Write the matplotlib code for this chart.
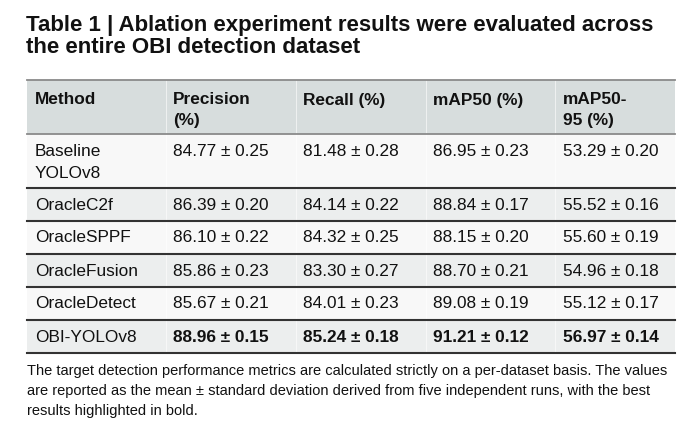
import matplotlib.pyplot as plt
from matplotlib.patches import Rectangle

plt.rcParams['font.family'] = ['Liberation Sans', 'DejaVu Sans']

# Table content
title_lines = ['Table 1 | Ablation experiment results were evaluated across',
               'the entire OBI detection dataset']
headers = [['Method'], ['Precision', '(%)'], ['Recall (%)'], ['mAP50 (%)'], ['mAP50-', '95 (%)']]
methods = [['Baseline', 'YOLOv8'], ['OracleC2f'], ['OracleSPPF'], ['OracleFusion'],
           ['OracleDetect'], ['OBI-YOLOv8']]
precision = ['84.77', '86.39', '86.10', '85.86', '85.67', '88.96']
precision_sd = ['0.25', '0.20', '0.22', '0.23', '0.21', '0.15']
recall = ['81.48', '84.14', '84.32', '83.30', '84.01', '85.24']
recall_sd = ['0.28', '0.22', '0.25', '0.27', '0.23', '0.18']
map50 = ['86.95', '88.84', '88.15', '88.70', '89.08', '91.21']
map50_sd = ['0.23', '0.17', '0.20', '0.21', '0.19', '0.12']
map5095 = ['53.29', '55.52', '55.60', '54.96', '55.12', '56.97']
map5095_sd = ['0.20', '0.16', '0.19', '0.18', '0.17', '0.14']
bold_row = 5
caption = ['The target detection performance metrics are calculated strictly on a per-dataset basis. The values',
           'are reported as the mean \u00b1 standard deviation derived from five independent runs, with the best',
           'results highlighted in bold.']

W, H = 691, 426
fig = plt.figure(figsize=(W / 100, H / 100), dpi=100)
ax = fig.add_axes([0, 0, 1, 1])
ax.set_xlim(0, W)
ax.set_ylim(H, 0)
ax.axis('off')

left, right = 27, 675
col_x = [35, 173, 303, 433, 563]
sep_x = [166, 296, 426, 555]
header_top, header_bot = 80, 134
row_edges = [134, 188, 221, 254, 287, 320, 353]

# title
for i, line in enumerate(title_lines):
    ax.text(left - 1, 25 + i * 22.5, line, fontsize=16, fontweight='bold',
            va='center', ha='left', color='#111111')

# header
ax.add_patch(Rectangle((left, header_top), right - left, header_bot - header_top,
                       color='#d7dddd', lw=0))
for j, h in enumerate(headers):
    for k, part in enumerate(h):
        ax.text(col_x[j], 100 + k * 21, part, fontsize=12.4, fontweight='bold',
                va='center', ha='left', color='#111111')

# rows
cols = [(precision, precision_sd), (recall, recall_sd), (map50, map50_sd), (map5095, map5095_sd)]
for i in range(len(methods)):
    y0, y1 = row_edges[i], row_edges[i + 1]
    bg = '#f8f8f8' if i % 2 == 0 else '#eceeee'
    ax.add_patch(Rectangle((left, y0), right - left, y1 - y0, color=bg, lw=0))
    if len(methods[i]) > 1:
        ys = [y0 + 18 + k * 21.5 for k in range(len(methods[i]))]
    else:
        ys = [(y0 + y1) / 2 + 0.5]
    for k, part in enumerate(methods[i]):
        ax.text(col_x[0], ys[k], part, fontsize=12.4, va='center', ha='left', color='#111111')
    w = 'bold' if i == bold_row else 'normal'
    for j, (m, s) in enumerate(cols):
        ax.text(col_x[j + 1], ys[0], f'{m[i]} \u00b1 {s[i]}', fontsize=12.4, fontweight=w,
                va='center', ha='left', color='#111111')

# column separators
for x in sep_x:
    ax.plot([x, x], [header_top, row_edges[-1]], color='white', lw=0.7, alpha=0.6)

# horizontal rules
ax.plot([left, right], [header_top, header_top], color='#8a8a8a', lw=1.3)
ax.plot([left, right], [header_bot, header_bot], color='#8a8a8a', lw=1.3)
for y in row_edges[1:]:
    ax.plot([left, right], [y, y], color='#333333', lw=1.5)

# caption
for i, line in enumerate(caption):
    ax.text(left, 370.5 + i * 20.5, line, fontsize=10.5, va='center', ha='left', color='#111111')

fig.savefig('out.png', dpi=100)
